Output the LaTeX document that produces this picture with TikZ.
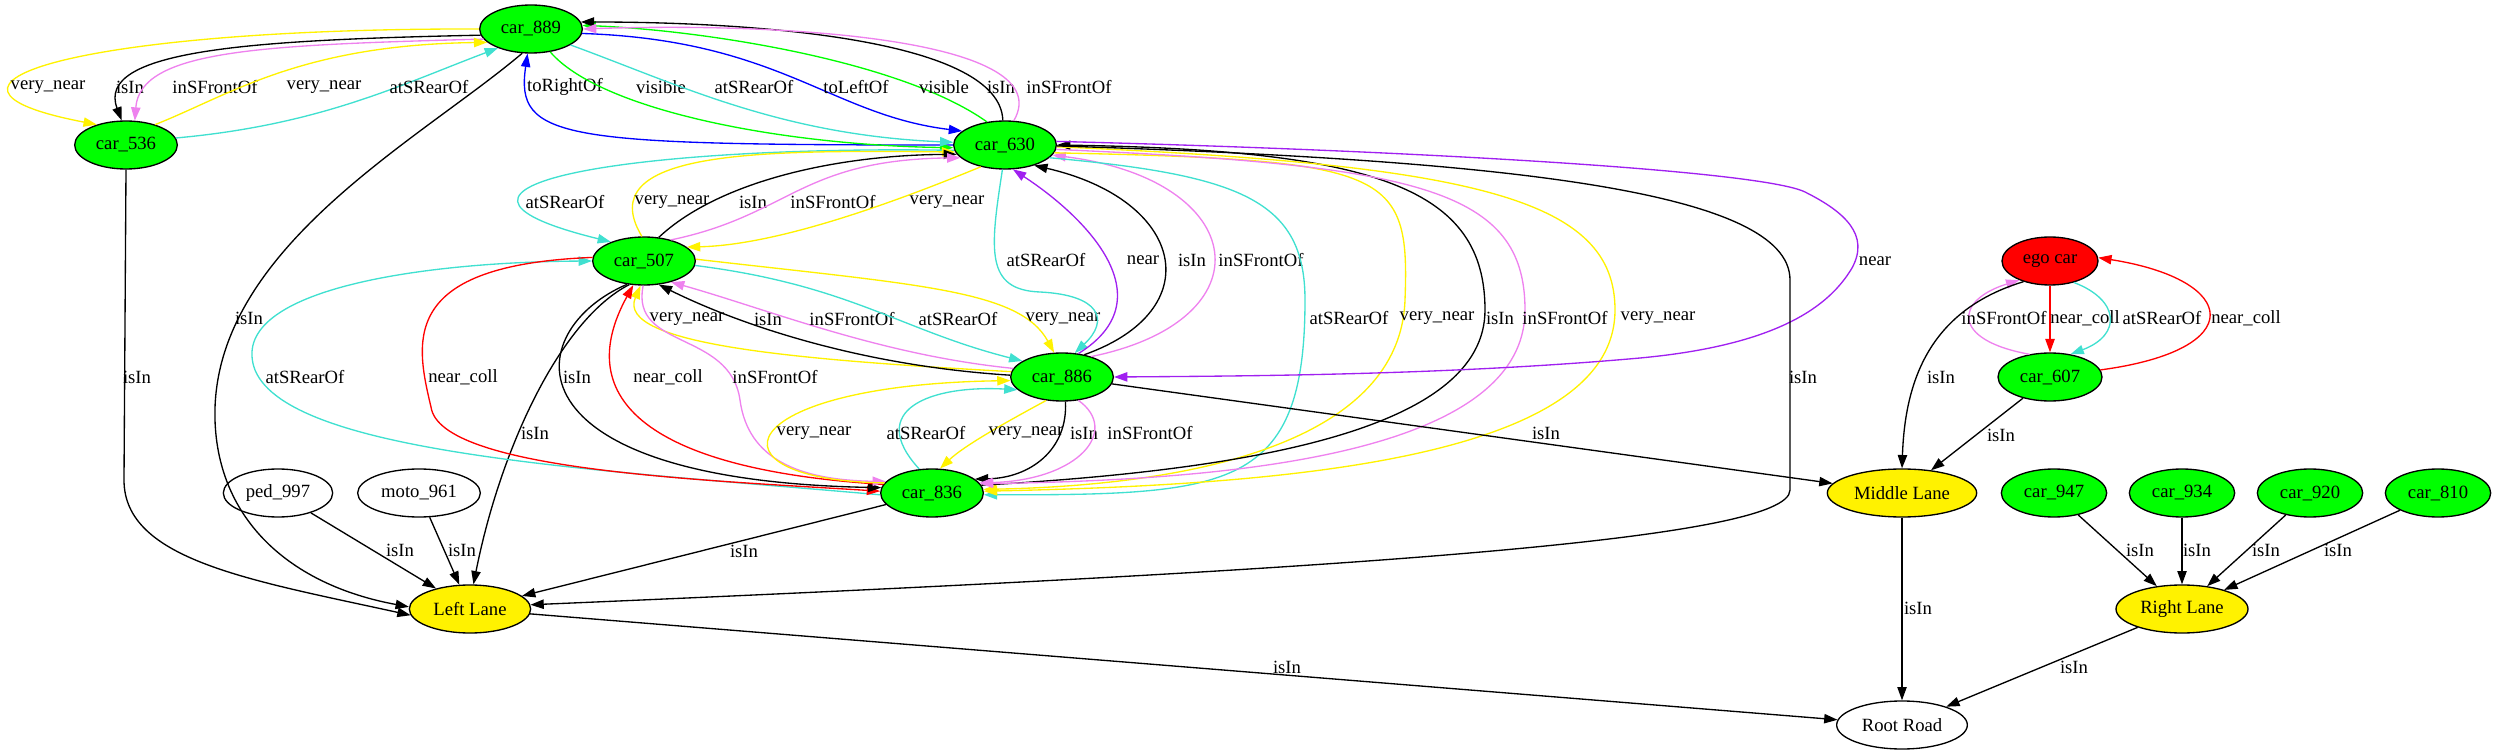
\documentclass[tikz,border=0pt]{standalone}
\usepackage{fontspec}
\setmainfont{Liberation Serif}
\usetikzlibrary{shapes.geometric,arrows.meta}
\definecolor{turq}{HTML}{40E0D0}
\definecolor{vio}{HTML}{EE82EE}
\definecolor{purp}{HTML}{A020F0}

\begin{document}
\begin{tikzpicture}[
	x=0.75pt,y=-0.75pt,
	font=\fontsize{14}{16}\selectfont,
	>={Triangle[length=10pt,width=7pt]},
	nd/.style={ellipse,draw,line width=1pt,inner sep=0pt,minimum height=36pt,minimum width=77pt},
	car/.style={nd,fill=green},
	lane/.style={nd,fill=yellow},
	obj/.style={nd,fill=white},
	me/.style={nd,fill=red},
	lbl/.style={text=black,inner sep=0pt},
	rel/.style={->,line width=1pt},
	isin/.style={rel,black},
	vnear/.style={rel,yellow},
	front/.style={rel,vio},
	rear/.style={rel,turq},
	side/.style={rel,blue},
	vis/.style={rel,green},
	nr/.style={rel,purp},
	coll/.style={rel,red},
	]
\useasboundingbox (0,0) rectangle (2496,755);
\node [car] (c889) at (531,29) {car\_889};
\node [car] (c536) at (126,145) {car\_536};
\node [car] (c630) at (1005,145) {car\_630};
\node [car] (c507) at (644,261) {car\_507};
\node [me,minimum width=72pt] (ego) at (2050,261) {ego car};
\node [car] (c886) at (1062,377) {car\_886};
\node [car,minimum width=78pt] (c607) at (2050,377) {car\_607};
\node [obj,minimum width=82pt] (p997) at (278,493) {ped\_997};
\node [obj,minimum width=92pt] (m961) at (419,493) {moto\_961};
\node [car] (c836) at (932,493) {car\_836};
\node [lane,minimum width=112pt] (mid) at (1902,493) {Middle Lane};
\node [car,minimum width=79pt] (c947) at (2054,493) {car\_947};
\node [car,minimum width=79pt] (c934) at (2182,493) {car\_934};
\node [car,minimum width=79pt] (c920) at (2310,493) {car\_920};
\node [car,minimum width=79pt] (c810) at (2438,493) {car\_810};
\node [lane,minimum width=91pt] (left) at (470,609) {Left Lane};
\node [lane,minimum width=99pt] (right) at (2182,609) {Right Lane};
\node [obj,minimum width=98pt] (root) at (1902,725) {Root Road};

\draw [vnear] (c889.180) .. controls (80,28) and (-110,85) .. (c536.145) node [lbl] at (48,87) {very\_near};
\draw [isin] (c889.187) .. controls (250,40) and (95,50) .. (c536.100) node [lbl] at (130,87) {isIn};
\draw [front] (c889.192) .. controls (260,45) and (140,50) .. (c536.70) node [lbl] at (215,87) {inSFrontOf};
\draw [vnear] (c536.35) .. controls (230,95) and (300,45) .. (c889.197) node [lbl] at (324,87) {very\_near};
\draw [rear] (c536.8) .. controls (320,125) and (400,85) .. (c889.210) node [lbl] at (429,87) {atSRearOf};

\draw [side] (c630.180) .. controls (560,145) and (515,140) .. (c889.262) node [lbl] at (565,87) {toRightOf};
\draw [vis] (c889.-50) .. controls (600,110) and (780,145) .. (c630.183) node [lbl] at (661,87) {visible};
\draw [rear] (c889.-22) .. controls (680,85) and (780,135) .. (c630.177) node [lbl] at (754,87) {atSRearOf};
\draw [side] (c889.-5) .. controls (780,40) and (830,115) .. (c630.162) node [lbl] at (856,87) {toLeftOf};
\draw [vis] (c630.128) .. controls (900,60) and (700,30) .. (c889.4) node [lbl] at (944,87) {visible};
\draw [isin] (c630.95) .. controls (1000,40) and (760,22) .. (c889.8) node [lbl] at (1001,87) {isIn};
\draw [front] (c630.70) .. controls (1060,40) and (790,22) .. (c889.0) node [lbl] at (1069,87) {inSFrontOf};

\draw [rear] (c630.186) .. controls (640,145) and (380,185) .. (c507.150) node [lbl] at (565,202) {atSRearOf};
\draw [vnear] (c507.95) .. controls (590,150) and (760,150) .. (c630.188) node [lbl] at (672,202) {very\_near};
\draw [isin] (c507.58) .. controls (720,180) and (840,155) .. (c630.191) node [lbl] at (753,202) {isIn};
\draw [front] (c507.38) .. controls (790,215) and (800,160) .. (c630.196) node [lbl] at (833,202) {inSFrontOf};
\draw [vnear] (c630.222) .. controls (900,200) and (780,245) .. (c507.18) node [lbl] at (947,202) {very\_near};

\draw [isin] (c889.250) .. controls (420,140) and (210,250) .. (215,420) .. controls (218,520) and (290,585) .. (left.178) node [lbl] at (249,318) {isIn};
\draw [isin] (c536.270) -- (124,480) .. controls (124,560) and (250,580) .. (left.186) node [lbl] at (137,377) {isIn};
\draw [isin] (c507.238) .. controls (560,320) and (500,450) .. (left.82) node [lbl] at (535,433) {isIn};

\draw [vnear] (c886.174) .. controls (800,360) and (615,345) .. (c507.262) node [lbl] at (687,319) {very\_near};
\draw [isin] (c886.178) .. controls (850,365) and (730,320) .. (c507.-58) node [lbl] at (768,319) {isIn};
\draw [front] (c886.170) .. controls (880,355) and (770,310) .. (c507.-38) node [lbl] at (852,319) {inSFrontOf};
\draw [rear] (c507.-5) .. controls (850,285) and (900,330) .. (c886.158) node [lbl] at (958,319) {atSRearOf};
\draw [vnear] (c507.2) .. controls (920,285) and (1020,290) .. (c886.108) node [lbl] at (1063,319) {very\_near};

\draw [rear] (c836.182) .. controls (600,470) and (290,455) .. (255,370) .. controls (225,290) and (420,262) .. (c507.180) node [lbl] at (305,377) {atSRearOf};
\draw [coll] (c507.176) .. controls (400,265) and (415,340) .. (431,407) .. controls (440,470) and (700,480) .. (c836.178) node [lbl] at (463,377) {near\_coll};
\draw [isin] (c507.234) .. controls (520,330) and (500,480) .. (c836.174) node [lbl] at (577,377) {isIn};
\draw [coll] (c836.170) .. controls (650,470) and (570,400) .. (c507.246) node [lbl] at (668,377) {near\_coll};
\draw [front] (c507.268) .. controls (630,350) and (730,330) .. (740,400) .. controls (748,460) and (800,480) .. (c836.166) node [lbl] at (775,377) {inSFrontOf};

\draw [vnear] (c836.168) .. controls (700,480) and (730,385) .. (c886.184) node [lbl] at (814,433) {very\_near};
\draw [rear] (c836.118) .. controls (865,410) and (930,385) .. (c886.196) node [lbl] at (926,433) {atSRearOf};
\draw [vnear] (c886.236) .. controls (1010,420) and (965,445) .. (c836.72) node [lbl] at (1026,433) {very\_near};
\draw [isin] (c886.-82) .. controls (1068,450) and (1030,478) .. (c836.18) node [lbl] at (1084,433) {isIn};
\draw [front] (c886.-55) .. controls (1120,430) and (1080,480) .. (c836.12) node [lbl] at (1150,433) {inSFrontOf};

\draw [rear] (c630.264) .. controls (990,250) and (985,290) .. (1040,292) .. controls (1100,295) and (1110,320) .. (c886.62) node [lbl] at (1046,260) {atSRearOf};
\draw [nr] (c886.55) .. controls (1165,300) and (1090,220) .. (c630.-72) node [lbl] at (1143,260) {near};
\draw [isin] (c886.45) .. controls (1210,310) and (1185,200) .. (c630.-35) node [lbl] at (1192,260) {isIn};
\draw [front] (c886.35) .. controls (1270,320) and (1250,180) .. (c630.-12) node [lbl] at (1261,260) {inSFrontOf};

\draw [rear] (c630.-16) .. controls (1240,175) and (1305,200) .. (1305,300) .. controls (1305,490) and (1230,495) .. (c836.-2) node [lbl] at (1349,318) {atSRearOf};
\draw [vnear] (c630.-9) .. controls (1390,160) and (1410,170) .. (1405,300) .. controls (1400,440) and (1200,485) .. (c836.4) node [lbl] at (1437,318) {very\_near};
\draw [isin] (c836.9) .. controls (1250,470) and (1485,430) .. (1485,310) .. controls (1485,190) and (1380,150) .. (c630.0) node [lbl] at (1500,318) {isIn};
\draw [front] (c630.-5) .. controls (1420,165) and (1525,190) .. (1525,310) .. controls (1525,450) and (1250,480) .. (c836.11) node [lbl] at (1565,318) {inSFrontOf};
\draw [vnear] (c630.-2) .. controls (1480,165) and (1615,200) .. (1615,310) .. controls (1615,460) and (1280,485) .. (c836.2) node [lbl] at (1658,318) {very\_near};

\draw [nr] (c630.4) .. controls (1400,150) and (1760,170) .. (1805,192) .. controls (1845,212) and (1870,235) .. (1852,268) .. controls (1830,305) and (1780,345) .. (1640,358) .. controls (1450,375) and (1250,376) .. (c886.0) node [lbl] at (1875,261) {near};
\draw [isin] (c630.-1) .. controls (1500,160) and (1790,190) .. (1790,280) -- (1790,490) .. controls (1790,540) and (1350,570) .. (left.4) node [lbl] at (1803,377) {isIn};

\draw [isin] (c886) -- (mid) node [lbl] at (1546,433) {isIn};
\draw [isin] (c836) -- (left) node [lbl] at (744,551) {isIn};
\draw [isin] (p997) -- (left) node [lbl] at (400,550) {isIn};
\draw [isin] (m961) -- (left) node [lbl] at (462,550) {isIn};
\draw [isin] (left) -- (root) node [lbl] at (1287,667) {isIn};
\draw [isin] (mid) -- (root) node [lbl] at (1918,608) {isIn};
\draw [isin] (right) -- (root) node [lbl] at (2074,667) {isIn};
\draw [isin] (c947) -- (right) node [lbl] at (2140,550) {isIn};
\draw [isin] (c934) -- (right) node [lbl] at (2197,550) {isIn};
\draw [isin] (c920) -- (right) node [lbl] at (2266,550) {isIn};
\draw [isin] (c810) -- (right) node [lbl] at (2338,550) {isIn};

\draw [front] (c607.132) .. controls (1950,340) and (1955,300) .. (ego.212) node [lbl] at (2004,318) {inSFrontOf};
\draw [coll] (ego) -- (c607) node [lbl] at (2085,318) {near\_coll};
\draw [rear] (ego.-42) .. controls (2120,300) and (2122,335) .. (c607.48) node [lbl] at (2162,318) {atSRearOf};
\draw [coll] (c607.8) .. controls (2250,350) and (2240,280) .. (ego.4) node [lbl] at (2246,318) {near\_coll};
\draw [isin] (ego.218) .. controls (1930,310) and (1905,380) .. (mid.90) node [lbl] at (1941,377) {isIn};
\draw [isin] (c607) -- (mid) node [lbl] at (2001,435) {isIn};
\end{tikzpicture}
\end{document}
